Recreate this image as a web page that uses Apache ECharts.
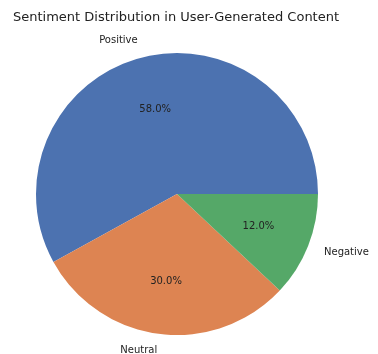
<!DOCTYPE html>
<html>
<head>
<meta charset="utf-8">
<script src="https://cdn.jsdelivr.net/npm/echarts@6/dist/echarts.min.js"></script>
<style>
  html, body { margin: 0; padding: 0; background: #ffffff; }
  #chart { width: 378px; height: 354px; }
</style>
</head>
<body>
<div id="chart"></div>
<script>
// Sentiment shares, in percent
const categories = ['Positive', 'Neutral', 'Negative'];
const shares = [58.0, 30.0, 12.0];
const colors = ['#4c72b0', '#dd8452', '#55a868'];

const R = 141;              // pie radius in px
const CENTER = [177, 194];
const FONT = 'DejaVu Sans';
const LABEL_SIZE = 10;

// width of a label, so it can be anchored by its near edge
const ctx = document.createElement('canvas').getContext('2d');
ctx.font = LABEL_SIZE + 'px "' + FONT + '"';
const textWidth = s => ctx.measureText(s).width;

const chart = echarts.init(document.getElementById('chart'), null, { renderer: 'canvas' });

const slices = categories.map((name, i) => ({
  name, value: shares[i], itemStyle: { color: colors[i] }
}));

// Transparent copies of the slices, used only to place text
const ghost = (extra) => categories.map((name, i) => Object.assign({
  name, value: shares[i], itemStyle: { color: 'rgba(0,0,0,0)' }
}, extra ? extra(i) : {}));

// Labels on the left half end at the anchor, on the right half start at it
const sideLabel = i => {
  const mid = (shares.slice(0, i).reduce((a, b) => a + b, 0) + shares[i] / 2) / 100 * 2 * Math.PI;
  const w = textWidth(categories[i]);
  return { label: { padding: Math.cos(mid) < 0 ? [0, w, 0, 0] : [0, 0, 0, w] } };
};

chart.setOption({
  animation: false,
  title: {
    text: 'Sentiment Distribution in User-Generated Content',
    left: 8, top: 6,
    textStyle: { fontFamily: FONT, fontSize: 13, fontWeight: 'normal', color: '#222' }
  },
  series: [
    {
      type: 'pie', center: CENTER, radius: [0, R],
      startAngle: 0, clockwise: false, silent: true,
      label: { show: false }, labelLine: { show: false },
      itemStyle: { borderWidth: 0 },
      data: slices
    },
    {
      // percentage labels at 0.6 of the radius
      type: 'pie', center: CENTER, radius: [0, R * 1.2],
      startAngle: 0, clockwise: false, silent: true, z: 3,
      label: {
        show: true, position: 'inside',
        formatter: p => p.value.toFixed(1) + '%',
        fontFamily: FONT, fontSize: LABEL_SIZE, color: '#222'
      },
      labelLine: { show: false },
      data: ghost()
    },
    {
      // category labels at 1.1 of the radius
      type: 'pie', center: CENTER, radius: [0, R * 2.2],
      startAngle: 0, clockwise: false, silent: true, z: 3,
      label: {
        show: true, position: 'inside',
        formatter: '{b}',
        fontFamily: FONT, fontSize: LABEL_SIZE, color: '#222'
      },
      labelLine: { show: false },
      data: ghost(sideLabel)
    }
  ]
});
</script>
</body>
</html>
